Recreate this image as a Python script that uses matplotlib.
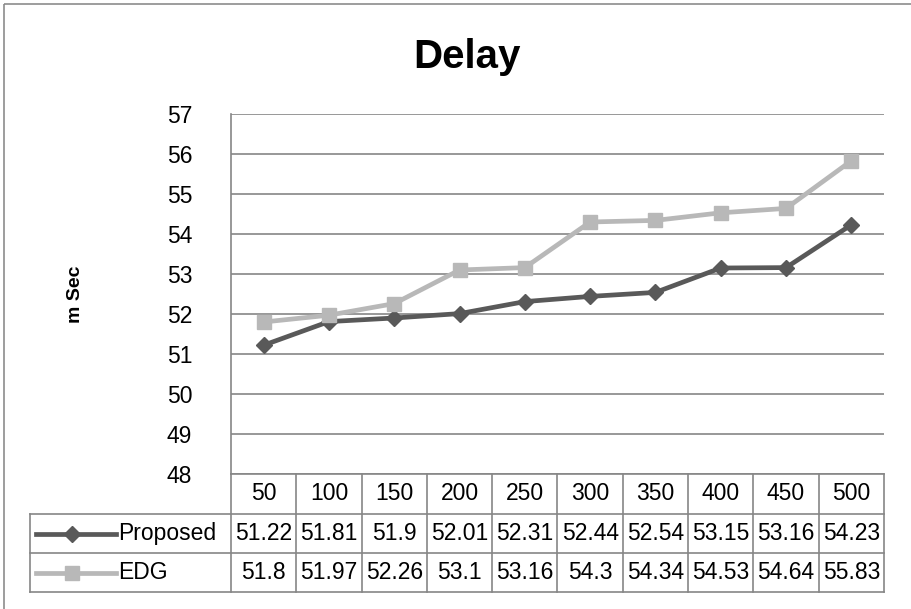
import matplotlib.pyplot as plt
from matplotlib.patches import Rectangle

nodes = ['50', '100', '150', '200', '250', '300', '350', '400', '450', '500']
proposed = [51.22, 51.81, 51.9, 52.01, 52.31, 52.44, 52.54, 53.15, 53.16, 54.23]
edg = [51.8, 51.97, 52.26, 53.1, 53.16, 54.3, 54.34, 54.53, 54.64, 55.83]
proposed_txt = ['51.22', '51.81', '51.9', '52.01', '52.31', '52.44', '52.54', '53.15', '53.16', '54.23']
edg_txt = ['51.8', '51.97', '52.26', '53.1', '53.16', '54.3', '54.34', '54.53', '54.64', '55.83']

plt.rcParams['font.family'] = ['Liberation Sans', 'DejaVu Sans']

W, H = 912, 609
dark = '#595959'
light = '#b8b8b8'
gridc = '#868686'
fs = 16.5

fig = plt.figure(figsize=(W / 100, H / 100), dpi=100)

# overlay in pixel coordinates for frame + table
pix = fig.add_axes([0, 0, 1, 1])
pix.set_xlim(0, W)
pix.set_ylim(H, 0)
pix.axis('off')

# plot area in pixels
L, R, T, B = 231, 884, 114, 474
ax = fig.add_axes([L / W, 1 - B / H, (R - L) / W, (B - T) / H])
x = list(range(len(nodes)))
ax.plot(x, proposed, color=dark, lw=3.4, marker='D', ms=8, label='Proposed', zorder=3)
ax.plot(x, edg, color=light, lw=3.4, marker='s', ms=10, label='EDG', zorder=3)
ax.set_xlim(-0.5, len(nodes) - 0.5)
ax.set_ylim(48, 57)
ax.set_yticks(range(48, 58))
ax.yaxis.grid(True, color=gridc, lw=1.2)
ax.set_axisbelow(True)
ax.set_xticks([])
ax.tick_params(axis='y', length=0, labelsize=fs, pad=28)
for s in ['top', 'right']:
    ax.spines[s].set_visible(False)
for s in ['left', 'bottom']:
    ax.spines[s].set_color(gridc)
    ax.spines[s].set_linewidth(1.2)
ax.patch.set_alpha(0)

fig.text(467 / W, 1 - 57 / H, 'Delay', fontsize=29, fontweight='bold', ha='center', va='center')
fig.text(76 / W, 1 - 294 / H, 'm Sec', fontsize=14, fontweight='bold', rotation=90, ha='center', va='center')

# outer frame
pix.add_patch(Rectangle((4, 4), W, H, fill=False, ec='#8c8c8c', lw=1.2))

# data table
colw = (R - L) / len(nodes)
rows = [474, 514, 553, 592]
tl = 30
for i in range(len(nodes) + 1):
    xx = L + i * colw
    pix.plot([xx, xx], [rows[0], rows[3]], color=gridc, lw=1.2)
pix.plot([tl, tl], [rows[1], rows[3]], color=gridc, lw=1.2)
for yy in rows[1:]:
    pix.plot([tl, R], [yy, yy], color=gridc, lw=1.2)

for i, n in enumerate(nodes):
    cx = L + (i + 0.5) * colw
    pix.text(cx, (rows[0] + rows[1]) / 2, n, fontsize=fs, ha='center', va='center')
    pix.text(cx, (rows[1] + rows[2]) / 2, proposed_txt[i], fontsize=fs, ha='center', va='center')
    pix.text(cx, (rows[2] + rows[3]) / 2, edg_txt[i], fontsize=fs, ha='center', va='center')

series = [('Proposed', dark, 'D', 8), ('EDG', light, 's', 10)]
for k, (name, c, m, ms) in enumerate(series):
    yy = (rows[k + 1] + rows[k + 2]) / 2
    pix.plot([36, 116], [yy, yy], color=c, lw=3.4)
    pix.plot([72], [yy], color=c, marker=m, ms=ms)
    pix.text(118, yy, name, fontsize=fs, ha='left', va='center')

fig.savefig('out.png', dpi=100)
